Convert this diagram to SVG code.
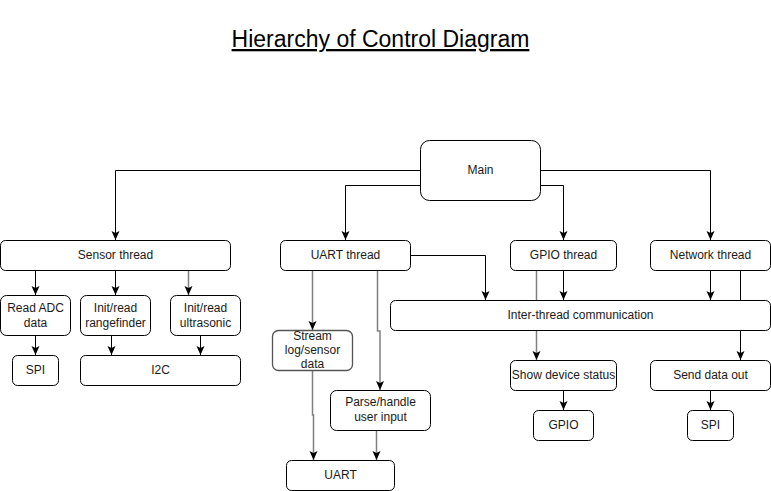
<svg xmlns="http://www.w3.org/2000/svg" width="771" height="491" viewBox="0 0 771 491">
<defs>
<marker id="arr" markerUnits="userSpaceOnUse" markerWidth="10" markerHeight="10" refX="9" refY="4" orient="auto">
<path d="M0,0 L9,4 L0,8 L2,4 Z" fill="#000"/>
</marker>
<style>
.box{fill:#fff;stroke:#000;stroke-width:1}
.gbox{fill:#fff;stroke:#555;stroke-width:1.3}
.t{font-family:"Liberation Sans",Arial,sans-serif;font-size:12px;fill:#1a1a1a;text-anchor:middle}
.e{fill:none;stroke:#000;stroke-width:1;marker-end:url(#arr)}
.g{fill:none;stroke:#808080;stroke-width:1.5;marker-end:url(#arr)}
.title{font-family:"Liberation Sans",Arial,sans-serif;font-size:23px;fill:#000;text-anchor:middle;text-decoration:underline}
</style>
</defs>
<rect width="771" height="491" fill="#fff"/>
<text class="title" x="380.5" y="47">Hierarchy of Control Diagram</text>

<g id="connectors">
<path class="e" d="M420,170.5 H115.5 V240"/>
<path class="e" d="M420,185.5 H345.5 V240"/>
<path class="e" d="M540,185.5 H563.5 V240"/>
<path class="e" d="M540,170.5 H710.5 V240"/>
<path class="e" d="M35.5,270 V295"/>
<path class="e" d="M115.5,270 V295"/>
<path class="g" d="M188.5,270 V295"/>
<path class="e" d="M35.5,335 V355"/>
<path class="e" d="M111.5,335 V355"/>
<path class="e" d="M200.5,335 V355"/>
<path class="g" d="M312.5,270 V330"/>
<path class="g" d="M377.5,270 V331 H380 V390"/>
<path class="e" d="M410,255.5 H485.5 V300"/>
<path class="g" d="M312.5,370 V415 H313.5 V460"/>
<path class="g" d="M376.5,430 V460"/>
<path class="g" d="M536.5,270 V360"/>
<path class="e" d="M563.5,270 V300"/>
<path class="e" d="M710.5,270 V300"/>
<path class="e" d="M740.5,270 V360"/>
<path class="e" d="M563.5,390 V410"/>
<path class="e" d="M710.5,390 V410"/>
</g>

<g id="main"><rect class="box" x="420.5" y="140.5" width="120" height="60" rx="9"/><text class="t" x="480.5" y="174">Main</text></g>
<g id="sensor-thread"><rect class="box" x="0.5" y="240.5" width="230" height="30" rx="5"/><text class="t" x="115.5" y="259">Sensor thread</text></g>
<g id="uart-thread"><rect class="box" x="280.5" y="240.5" width="130" height="30" rx="5"/><text class="t" x="345.5" y="259">UART thread</text></g>
<g id="gpio-thread"><rect class="box" x="510.5" y="240.5" width="106" height="30" rx="5"/><text class="t" x="563.5" y="259">GPIO thread</text></g>
<g id="network-thread"><rect class="box" x="650.5" y="240.5" width="120" height="30" rx="5"/><text class="t" x="710.5" y="259">Network thread</text></g>
<g id="read-adc"><rect class="box" x="0.5" y="295.5" width="70" height="40" rx="6"/><text class="t" x="35.5" y="311.5">Read ADC</text><text class="t" x="35.5" y="326.5">data</text></g>
<g id="rangefinder"><rect class="box" x="80.5" y="295.5" width="70" height="40" rx="6"/><text class="t" x="115.5" y="311.5">Init/read</text><text class="t" x="115.5" y="326.5">rangefinder</text></g>
<g id="ultrasonic"><rect class="box" x="170.5" y="295.5" width="70" height="40" rx="6"/><text class="t" x="205.5" y="311.5">Init/read</text><text class="t" x="205.5" y="326.5">ultrasonic</text></g>
<g id="spi-sensor"><rect class="box" x="12.5" y="355.5" width="46" height="30" rx="5"/><text class="t" x="35.5" y="374">SPI</text></g>
<g id="i2c"><rect class="box" x="80.5" y="355.5" width="160" height="30" rx="5"/><text class="t" x="160.5" y="374">I2C</text></g>
<g id="stream"><rect class="gbox" x="272.5" y="330.5" width="80" height="40" rx="6"/><text class="t" x="312.5" y="340">Stream</text><text class="t" x="312.5" y="354">log/sensor</text><text class="t" x="312.5" y="368">data</text></g>
<g id="inter-thread"><rect class="box" x="390.5" y="300.5" width="380" height="30" rx="5"/><text class="t" x="580.5" y="319">Inter-thread communication</text></g>
<g id="parse"><rect class="box" x="330.5" y="390.5" width="100" height="40" rx="6"/><text class="t" x="380.5" y="406">Parse/handle</text><text class="t" x="380.5" y="421">user input</text></g>
<g id="uart"><rect class="box" x="286.5" y="460.5" width="108" height="30" rx="5"/><text class="t" x="340.5" y="479">UART</text></g>
<g id="show-status"><rect class="box" x="510.5" y="360.5" width="106" height="30" rx="5"/><text class="t" x="563.5" y="379">Show device status</text></g>
<g id="send-data"><rect class="box" x="650.5" y="360.5" width="120" height="30" rx="5"/><text class="t" x="710.5" y="379">Send data out</text></g>
<g id="gpio"><rect class="box" x="533.5" y="410.5" width="60" height="30" rx="5"/><text class="t" x="563.5" y="429">GPIO</text></g>
<g id="spi-net"><rect class="box" x="687.5" y="410.5" width="46" height="30" rx="5"/><text class="t" x="710.5" y="429">SPI</text></g>
</svg>
